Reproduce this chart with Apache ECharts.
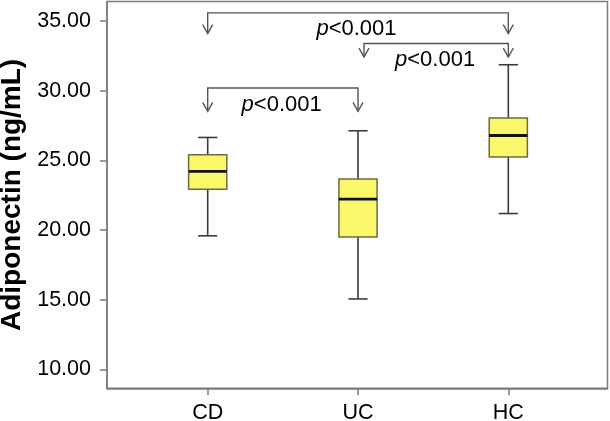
<!DOCTYPE html>
<html>
<head>
<meta charset="utf-8">
<script src="https://cdn.jsdelivr.net/npm/echarts@6/dist/echarts.min.js"></script>
<style>
html,body{margin:0;padding:0;background:#fff;}
#chart{width:610px;height:421px;}
</style>
</head>
<body>
<div id="chart"></div>
<script>
// Groups (categories) and their x positions
const categories = ['CD', 'UC', 'HC'];
const categoryPos = [1, 2, 3];
// Box plot statistics: [min, Q1, median, Q3, max] (ng/mL)
const boxMin = [19.58, 15.05, 21.18];
const boxQ1 = [22.93, 19.50, 25.23];
const boxMedian = [24.20, 22.21, 26.78];
const boxQ3 = [25.40, 23.65, 28.03];
const boxMax = [26.64, 27.12, 31.86];
// Y tick labels
const yTicks = [10, 15, 20, 25, 30, 35];
// Significance brackets: [x left, x right, bracket level, arrow tip level]
const bracketLeft = [1, 2.04, 1];
const bracketRight = [3, 3, 2];
const bracketLevel = [35.58, 33.39, 30.19];
const bracketTip = [34.09, 32.41, 28.51];
// p-value labels: x, y, text
const pLabelX = [1.99, 2.513, 1.492];
const pLabelY = [34.45, 32.22, 28.95];
const pLabelText = ['p<0.001', 'p<0.001', 'p<0.001'];

const FONT = 'Liberation Sans, Arial, sans-serif';

const boxData = categoryPos.map((x, i) => [x, boxMin[i], boxQ1[i], boxMedian[i], boxQ3[i], boxMax[i]]);
const bracketData = bracketLeft.map((x, i) => [x, bracketRight[i], bracketLevel[i], bracketTip[i]]);
const labelData = pLabelX.map((x, i) => [x, pLabelY[i], pLabelText[i]]);

const chart = echarts.init(document.getElementById('chart'), null, {renderer: 'canvas'});

const option = {
  backgroundColor: '#ffffff',
  animation: false,
  grid: {
    left: 107, right: 2.5, top: 1.5, bottom: 32.7,
    containLabel: false, outerBoundsMode: 'none',
    show: true, borderColor: '#7a7a7a', borderWidth: 1.5, backgroundColor: 'transparent'
  },
  xAxis: {
    type: 'value', min: 0.33, max: 3.66,
    splitLine: {show: false},
    axisLine: {show: true, lineStyle: {color: '#7a7a7a', width: 1.5}},
    axisTick: {show: true, customValues: categoryPos, length: 7, lineStyle: {color: '#7a7a7a', width: 1.5}},
    axisLabel: {
      customValues: categoryPos, margin: 14, fontSize: 21.5, color: '#000', fontFamily: FONT,
      formatter: v => categories[Math.round(v) - 1] || ''
    }
  },
  yAxis: {
    type: 'value', min: 8.635, max: 36.4,
    name: 'Adiponectin (ng/mL)', nameLocation: 'middle', nameGap: 80,
    nameTextStyle: {fontSize: 28, fontWeight: 'bold', color: '#000', fontFamily: FONT},
    splitLine: {show: false},
    axisLine: {show: true, lineStyle: {color: '#7a7a7a', width: 1.5}},
    axisTick: {show: true, customValues: yTicks, length: 7, lineStyle: {color: '#7a7a7a', width: 1.5}},
    axisLabel: {
      customValues: yTicks, margin: 16, fontSize: 21.5, color: '#000', fontFamily: FONT,
      formatter: v => v.toFixed(2)
    }
  },
  series: [
    {
      type: 'custom',
      name: 'box',
      data: boxData,
      encode: {x: 0, y: [1, 2, 3, 4, 5]},
      renderItem: function (params, api) {
        const x = api.value(0);
        const halfW = 0.127, capW = 0.064;
        const pMin = api.coord([x, api.value(1)]);
        const pQ1 = api.coord([x, api.value(2)]);
        const pMed = api.coord([x, api.value(3)]);
        const pQ3 = api.coord([x, api.value(4)]);
        const pMax = api.coord([x, api.value(5)]);
        const left = api.coord([x - halfW, 0])[0];
        const right = api.coord([x + halfW, 0])[0];
        const capL = api.coord([x - capW, 0])[0];
        const capR = api.coord([x + capW, 0])[0];
        const wStyle = {stroke: '#3c3c3c', lineWidth: 1.6};
        return {
          type: 'group',
          children: [
            {type: 'line', shape: {x1: pMax[0], y1: pMax[1], x2: pQ3[0], y2: pQ3[1]}, style: wStyle},
            {type: 'line', shape: {x1: pMin[0], y1: pMin[1], x2: pQ1[0], y2: pQ1[1]}, style: wStyle},
            {type: 'line', shape: {x1: capL, y1: pMax[1], x2: capR, y2: pMax[1]}, style: wStyle},
            {type: 'line', shape: {x1: capL, y1: pMin[1], x2: capR, y2: pMin[1]}, style: wStyle},
            {type: 'rect', shape: {x: left, y: pQ3[1], width: right - left, height: pQ1[1] - pQ3[1]},
              style: {fill: '#fbf76a', stroke: '#6e6a3e', lineWidth: 1.5}},
            {type: 'line', shape: {x1: left, y1: pMed[1], x2: right, y2: pMed[1]},
              style: {stroke: '#111', lineWidth: 2.8}}
          ]
        };
      }
    },
    {
      type: 'custom',
      name: 'brackets',
      data: bracketData,
      encode: {x: [0, 1], y: [2, 3]},
      renderItem: function (params, api) {
        const x1 = api.value(0), x2 = api.value(1), yl = api.value(2), yt = api.value(3);
        const a = api.coord([x1, yt]);
        const b = api.coord([x1, yl]);
        const c = api.coord([x2, yl]);
        const d = api.coord([x2, yt]);
        const st = {stroke: '#555', lineWidth: 1.4, fill: 'none'};
        const ah = 9, aw = 5;
        return {
          type: 'group',
          children: [
            {type: 'polyline', shape: {points: [a, b, c, d]}, style: st},
            {type: 'polyline', shape: {points: [[a[0] - aw, a[1] - ah], a, [a[0] + aw, a[1] - ah]]}, style: st},
            {type: 'polyline', shape: {points: [[d[0] - aw, d[1] - ah], d, [d[0] + aw, d[1] - ah]]}, style: st}
          ]
        };
      }
    },
    {
      type: 'custom',
      name: 'pvalues',
      data: labelData,
      encode: {x: 0, y: 1},
      renderItem: function (params, api) {
        const p = api.coord([api.value(0), api.value(1)]);
        const txt = labelData[params.dataIndex][2];
        return {
          type: 'text',
          x: p[0], y: p[1],
          style: {
            text: '{i|' + txt.charAt(0) + '}' + txt.slice(1),
            rich: {i: {fontStyle: 'italic', fontSize: 22, fontFamily: FONT, fill: '#000'}},
            fontSize: 22, fontFamily: FONT, fill: '#000',
            align: 'center', verticalAlign: 'middle'
          }
        };
      }
    }
  ]
};
chart.setOption(option);
</script>
</body>
</html>
